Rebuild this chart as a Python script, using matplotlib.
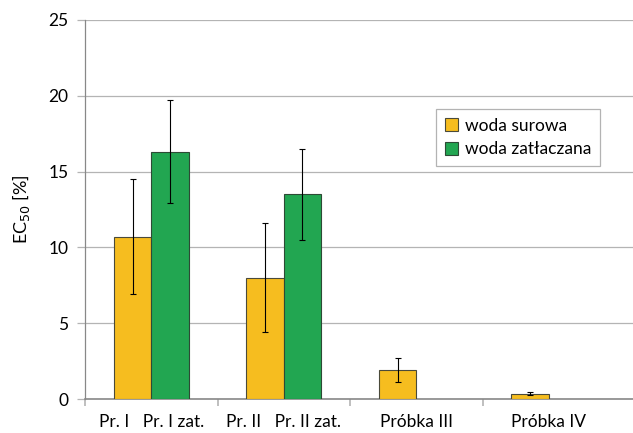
import numpy as np
import matplotlib.pyplot as plt

plt.rcParams['font.family'] = ['Lato', 'DejaVu Sans']

# data
groups = ["Pr. I   Pr. I zat.", "Pr. II   Pr. II zat.", "Próbka III", "Próbka IV"]
surowa = [10.7, 8.0, 1.9, 0.35]
surowa_err = [3.8, 3.6, 0.8, 0.1]
zatl = [16.3, 13.5, 0.0, 0.0]
zatl_err = [3.4, 3.0, 0.0, 0.0]
has_zatl = [True, True, False, False]

c_yellow = "#F6BD1F"
c_green = "#22A651"
c_grid = "#B4B4B4"

fig = plt.figure(figsize=(6.33, 4.33), dpi=100)
ax = fig.add_axes([85/633, 34/433, 548/633, 379/433])

x = np.arange(len(groups))
w = 0.283

ax.bar(x - w/2, surowa, w, color=c_yellow, edgecolor="#4a4a3a", linewidth=0.8,
       label="woda surowa", zorder=3)
ax.errorbar(x - w/2, surowa, yerr=surowa_err, fmt="none", ecolor="black",
            elinewidth=0.8, capsize=2.5, capthick=0.8, zorder=4)

xz = x[np.array(has_zatl)]
zv = np.array(zatl)[np.array(has_zatl)]
ze = np.array(zatl_err)[np.array(has_zatl)]
ax.bar(xz + w/2, zv, w, color=c_green, edgecolor="#2d4a35", linewidth=0.8,
       label="woda zatłaczana", zorder=3)
ax.errorbar(xz + w/2, zv, yerr=ze, fmt="none", ecolor="black",
            elinewidth=0.8, capsize=2.5, capthick=0.8, zorder=4)

ax.set_xlim(-0.5, -0.5 + 548/132.5)
ax.set_ylim(0, 25)
ax.set_yticks(np.arange(0, 26, 5))
ax.yaxis.grid(True, color=c_grid, linewidth=0.9, zorder=0)
ax.set_axisbelow(True)

# category labels in the middle, tick marks at the boundaries
ax.set_xticks(x)
ax.set_xticklabels(groups, fontsize=12.5)
ax.tick_params(axis="x", length=0, pad=11)
ax.set_xticks(np.arange(len(groups)) - 0.5, minor=True)
ax.tick_params(axis="x", which="minor", length=5, color=c_grid, width=1.2)
ax.tick_params(axis="y", length=6, color=c_grid, width=0.9, labelsize=12.5, pad=6)

for s in ["top", "right"]:
    ax.spines[s].set_visible(False)
ax.spines["left"].set_color("#888888")
ax.spines["bottom"].set_color("#888888")
ax.spines["left"].set_linewidth(0.9)
ax.spines["bottom"].set_linewidth(1.2)

ax.set_ylabel("EC$_{50}$ [%]", fontsize=13, labelpad=12)

leg = ax.legend(loc="upper left", bbox_to_anchor=(351/548, 1 - 89/379), fontsize=12.5,
                frameon=True, fancybox=False, edgecolor="#A0A0A0",
                handlelength=0.75, handleheight=0.75, handletextpad=0.4,
                borderpad=0.5, labelspacing=0.45, borderaxespad=0)
leg.get_frame().set_linewidth(0.9)

fig.savefig("out.png", dpi=100)
